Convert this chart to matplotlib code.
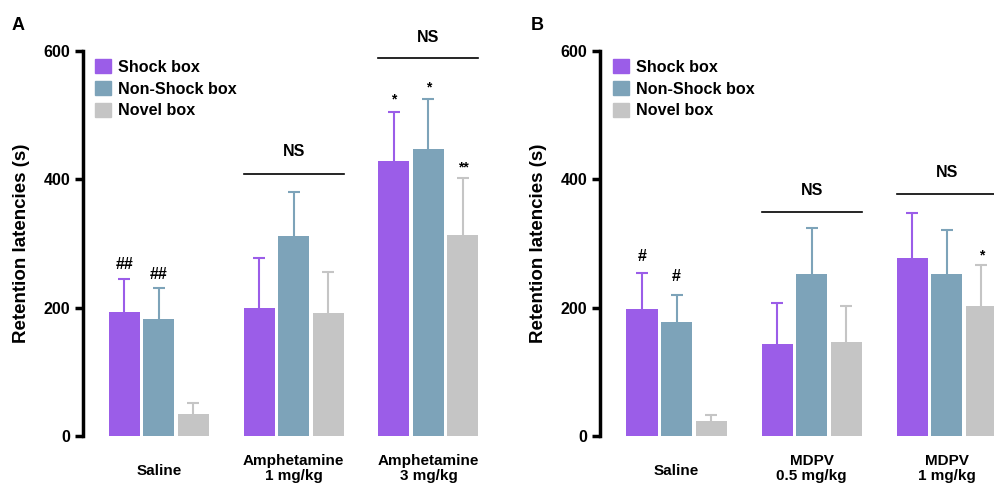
import numpy as np
import matplotlib.pyplot as plt
from matplotlib.patches import Patch

plt.rcParams['font.family'] = ['Liberation Sans', 'DejaVu Sans']
plt.rcParams['font.weight'] = 'bold'

# Panel A data
groups_a = ['Saline', 'Amphetamine\n1 mg/kg', 'Amphetamine\n3 mg/kg']
shock_a = [194, 200, 428]
nonshock_a = [182, 311, 447]
novel_a = [35, 191, 313]
shock_a_err = [51, 78, 77]
nonshock_a_err = [48, 70, 78]
novel_a_err = [17, 65, 89]

# Panel B data
groups_b = ['Saline', 'MDPV\n0.5 mg/kg', 'MDPV\n1 mg/kg']
shock_b = [198, 144, 278]
nonshock_b = [177, 252, 252]
novel_b = [23, 146, 203]
shock_b_err = [56, 64, 70]
nonshock_b_err = [42, 72, 69]
novel_b_err = [9, 56, 64]

box_names = ['Shock box', 'Non-Shock box', 'Novel box']
colors = ['#9b5de8', '#7da3b9', '#c5c5c5']

W, H = 994, 488
fig = plt.figure(figsize=(W / 100, H / 100), dpi=100)

bar_w = 0.23
step = 0.256


def draw_panel(ax, groups, series, errs):
    x = np.arange(len(groups))
    for i, (vals, e, c) in enumerate(zip(series, errs, colors)):
        pos = x + (i - 1) * step
        ax.bar(pos, vals, width=bar_w, color=c, zorder=2)
        # symmetric error bars drawn behind the bar so only the upper half shows
        ax.errorbar(pos, vals, yerr=e, fmt='none',
                    ecolor=c, elinewidth=1.5, capsize=4, capthick=1.5, zorder=1)
    ax.set_ylim(0, 600)
    ax.set_yticks([0, 200, 400, 600])
    ax.spines['top'].set_visible(False)
    ax.spines['right'].set_visible(False)
    ax.spines['bottom'].set_visible(False)
    ax.spines['left'].set_linewidth(2.5)
    ax.tick_params(axis='y', length=6, width=2.5, labelsize=11.5, pad=3)
    ax.set_xticks([])
    for lab in ax.get_yticklabels():
        lab.set_fontweight('bold')
    ax.set_ylabel('Retention latencies (s)', fontsize=13.5, fontweight='bold', labelpad=10)
    for xi, g in zip(x, groups):
        yl = -54 if '\n' not in g else -50
        ax.text(xi, yl, g, ha='center', va='center', fontsize=11,
                fontweight='bold', linespacing=1.1, clip_on=False)
    return [Patch(color=c) for c in colors]


def ns(ax, xc, yline, ytext, x_right=None):
    half = step + bar_w / 2
    xr = xc + half if x_right is None else x_right
    ax.plot([xc - half, xr], [yline, yline], color='black', lw=1.2, clip_on=False)
    ax.text(xc, ytext, 'NS', ha='center', va='center', fontsize=11.5, fontweight='bold', clip_on=False)


def mark(ax, x, y, s):
    ax.text(x, y, s, ha='center', va='center', fontsize=11.5 if '#' in s else 10,
            fontweight='bold', clip_on=False)


def legend(ax, handles, left_px):
    ax.legend(handles, box_names, loc='upper left', bbox_to_anchor=(left_px / W, 1 - 59 / H),
              bbox_transform=fig.transFigure, frameon=False, fontsize=11.6,
              handlelength=1.0, handleheight=1.0, labelspacing=0.38, handletextpad=0.45,
              borderpad=0, borderaxespad=0)


# Panel A axes (pixel layout)
ax_a = fig.add_axes([83 / W, 52 / H, (490 - 83) / W, 385 / H])
ha = draw_panel(ax_a, groups_a, [shock_a, nonshock_a, novel_a], [shock_a_err, nonshock_a_err, novel_a_err])
ax_a.set_xlim(-0.564, 2.457)
ns(ax_a, 1, 409, 443)
ns(ax_a, 2, 589, 621)
mark(ax_a, -step, 268, '##')
mark(ax_a, 0, 252, '##')
mark(ax_a, 2 - step, 524, '*')
mark(ax_a, 2, 543, '*')
mark(ax_a, 2 + step, 418, '**')
legend(ax_a, ha, 95)

# Panel B axes
ax_b = fig.add_axes([600 / W, 52 / H, (994 - 600) / W, 385 / H])
hb = draw_panel(ax_b, groups_b, [shock_b, nonshock_b, novel_b], [shock_b_err, nonshock_b_err, novel_b_err])
ax_b.set_xlim(-0.567, 2.35)
ns(ax_b, 1, 349, 382)
ns(ax_b, 2, 377, 411, x_right=2.6)
mark(ax_b, -step, 279, '#')
mark(ax_b, 0, 248, '#')
mark(ax_b, 2 + step, 281, '*')
legend(ax_b, hb, 613)

fig.text(12 / W, 1 - 25 / H, 'A', fontsize=13, fontweight='bold', va='center')
fig.text(531 / W, 1 - 25 / H, 'B', fontsize=13, fontweight='bold', va='center')

fig.savefig('out.png', dpi=100)
